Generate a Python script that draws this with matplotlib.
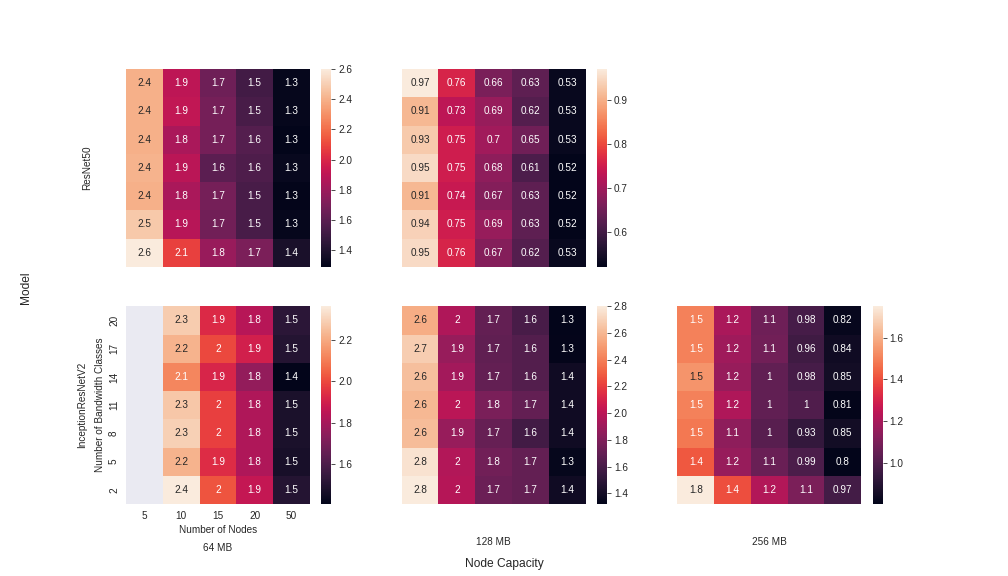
import numpy as np
import matplotlib
matplotlib.use("Agg")
import matplotlib.pyplot as plt
from matplotlib.ticker import MaxNLocator
import seaborn as sns

nodes = [5, 10, 15, 20, 50]
bw_classes = [20, 17, 14, 11, 8, 5, 2]
capacities = ["64 MB", "128 MB", "256 MB"]
models = ["ResNet50", "InceptionResNetV2"]

# rows: bandwidth classes 20..2, columns: nodes 5..50
resnet_64 = [
    [2.40, 1.90, 1.66, 1.52, 1.31],
    [2.40, 1.91, 1.68, 1.54, 1.31],
    [2.40, 1.84, 1.68, 1.58, 1.29],
    [2.41, 1.89, 1.60, 1.56, 1.32],
    [2.40, 1.84, 1.68, 1.54, 1.30],
    [2.48, 1.88, 1.67, 1.54, 1.31],
    [2.60, 2.08, 1.79, 1.70, 1.38],
]
resnet_128 = [
    [0.97, 0.76, 0.66, 0.63, 0.53],
    [0.91, 0.73, 0.69, 0.62, 0.53],
    [0.93, 0.75, 0.70, 0.65, 0.53],
    [0.95, 0.75, 0.68, 0.61, 0.52],
    [0.91, 0.74, 0.67, 0.63, 0.52],
    [0.94, 0.75, 0.69, 0.63, 0.52],
    [0.95, 0.76, 0.67, 0.62, 0.53],
]
incep_64 = [
    [np.nan, 2.28, 1.93, 1.84, 1.52],
    [np.nan, 2.22, 2.00, 1.90, 1.50],
    [np.nan, 2.12, 1.92, 1.76, 1.41],
    [np.nan, 2.27, 1.98, 1.82, 1.48],
    [np.nan, 2.29, 1.98, 1.82, 1.48],
    [np.nan, 2.22, 1.94, 1.82, 1.47],
    [np.nan, 2.36, 2.02, 1.87, 1.50],
]
incep_128 = [
    [2.56, 1.96, 1.70, 1.60, 1.32],
    [2.68, 1.88, 1.69, 1.64, 1.33],
    [2.63, 1.92, 1.70, 1.64, 1.38],
    [2.60, 2.00, 1.78, 1.70, 1.38],
    [2.62, 1.88, 1.71, 1.58, 1.38],
    [2.76, 1.97, 1.75, 1.70, 1.34],
    [2.80, 1.98, 1.73, 1.70, 1.38],
]
incep_256 = [
    [1.50, 1.20, 1.07, 0.98, 0.82],
    [1.50, 1.18, 1.08, 0.96, 0.84],
    [1.54, 1.16, 1.04, 0.98, 0.85],
    [1.50, 1.21, 1.04, 1.00, 0.81],
    [1.48, 1.14, 1.02, 0.93, 0.85],
    [1.42, 1.16, 1.06, 0.99, 0.803],
    [1.75, 1.40, 1.22, 1.10, 0.97],
]

sns.set_style("darkgrid")
plt.rcParams["font.family"] = ["Liberation Sans", "DejaVu Sans"]

fig, axes = plt.subplots(
    2, 3, figsize=(14, 8), dpi=72,
    gridspec_kw=dict(left=0.125, right=0.9, top=0.88, bottom=0.125,
                     wspace=0.2, hspace=0.2),
)

grid = [[resnet_64, resnet_128, None], [incep_64, incep_128, incep_256]]

for r in range(2):
    for c in range(3):
        ax = axes[r][c]
        data = grid[r][c]
        if data is None:
            ax.axis("off")
            continue
        labelled = (r == 1 and c == 0)
        sns.heatmap(
            np.array(data, dtype=float), ax=ax, annot=True,
            xticklabels=nodes if labelled else False,
            yticklabels=bw_classes if labelled else False,
        )
        ax.grid(False)
        cbar = ax.collections[0].colorbar
        cbar.locator = MaxNLocator(nbins=8, steps=[1, 2, 2.5, 5, 10])
        cbar.update_ticks()
        if labelled:
            ax.set_xlabel("Number of Nodes")
            ax.set_ylabel("Number of Bandwidth Classes")
            ax.text(-0.238, 0.5, models[1], transform=ax.transAxes,
                    rotation=90, ha="center", va="center",
                    fontsize=10, color=".15")
            ax.text(0.5, -0.225, capacities[0], transform=ax.transAxes,
                    ha="center", va="center", fontsize=10, color=".15")
        if r == 0 and c == 0:
            ax.set_ylabel(models[0])
            ax.yaxis.set_label_coords(-0.185, 0.5)
        if r == 1 and c > 0:
            ax.set_xlabel(capacities[c])
            ax.xaxis.set_label_coords(0.5, -0.165)

fig.supxlabel("Node Capacity", color=".15")
fig.supylabel("Model", color=".15")

fig.savefig("out.png", dpi=72)
